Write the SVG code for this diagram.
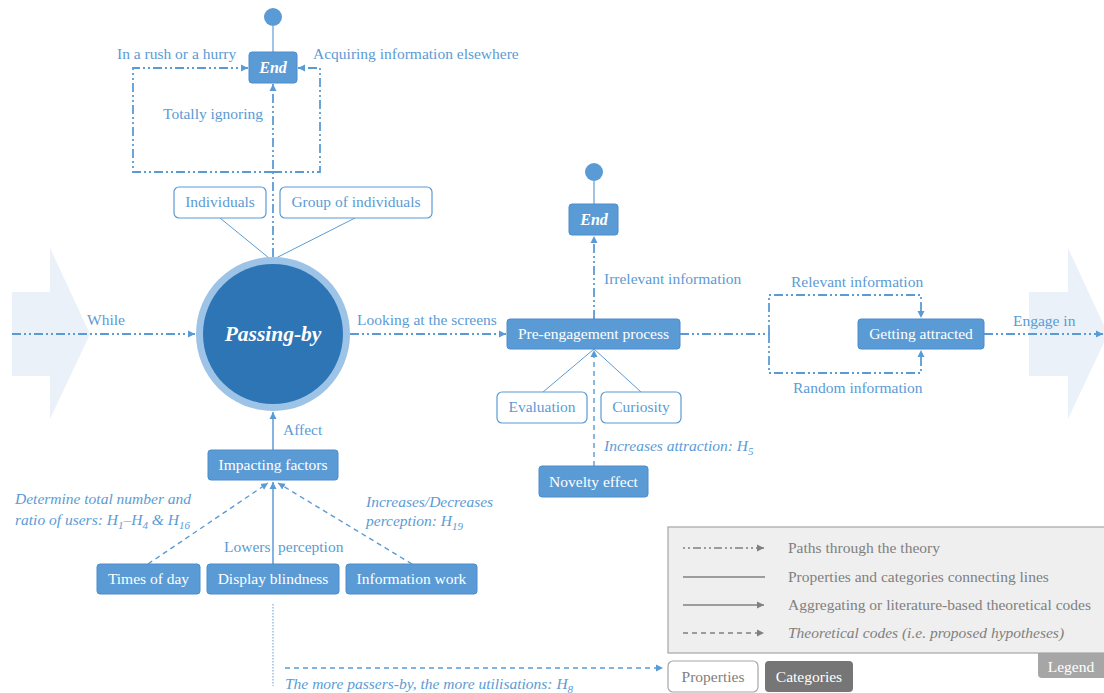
<svg xmlns="http://www.w3.org/2000/svg" width="1104" height="693" viewBox="0 0 1104 693" font-family="'Liberation Serif', 'Times New Roman', serif">
  <style>
    text { font-family: "Liberation Serif", "Times New Roman", serif; font-size: 15.5px; }
    .lbl { fill: #5b9bd5; }
    .it { font-style: italic; }
    .wt { fill: #ffffff; text-anchor: middle; }
    .bt { fill: #5b9bd5; text-anchor: middle; }
    .cat { fill: #5b9bd5; stroke: #4a8ccc; stroke-width: 1; }
    .prop { fill: #ffffff; stroke: #5b9bd5; stroke-width: 1.2; }
    .path { fill: none; stroke: #5b9bd5; stroke-width: 1.8; stroke-dasharray: 9 3 2 3 2 3; }
    .thin { fill: none; stroke: #5b9bd5; stroke-width: 1; }
    .solid { fill: none; stroke: #5b9bd5; stroke-width: 1.5; }
    .dash { fill: none; stroke: #5b9bd5; stroke-width: 1.4; stroke-dasharray: 5 4; }
    .dot { fill: none; stroke: #9dc3e6; stroke-width: 1.6; stroke-dasharray: 1.5 1.5; }
    .lg { fill: #808080; }
    .lgl { fill: none; stroke: #808080; stroke-width: 1.3; }
    .flow { fill: #eaf1f8; }
  </style>
  <defs>
    <marker id="ah" markerUnits="userSpaceOnUse" markerWidth="8" markerHeight="8" refX="7" refY="4" orient="auto">
      <path d="M0,0.5 L7,4 L0,7.5 z" fill="#5b9bd5"/>
    </marker>
    <marker id="ahg" markerUnits="userSpaceOnUse" markerWidth="8" markerHeight="8" refX="7" refY="4" orient="auto">
      <path d="M0,0.5 L7,4 L0,7.5 z" fill="#808080"/>
    </marker>
  </defs>

  <!-- large background flow arrows -->
  <polygon class="flow" points="12,292 50,292 50,248 90,334 50,419 50,376 12,376"/>
  <polygon class="flow" points="1029,292 1068,292 1068,248 1108,334 1068,419 1068,376 1029,376"/>

  <!-- connectors -->
  <g id="connectors">
    <!-- paths through the theory -->
    <path class="path" d="M12,334 H195" marker-end="url(#ah)"/>
    <path class="path" d="M350,334 H506" marker-end="url(#ah)"/>
    <path class="path" d="M680,334 H769"/>
    <path class="path" d="M769,334 V295 H921 V318" marker-end="url(#ah)"/>
    <path class="path" d="M769,334 V373 H921 V350" marker-end="url(#ah)"/>
    <path class="path" d="M984,334 H1103" marker-end="url(#ah)"/>
    <path class="path" d="M273,257 V84" marker-end="url(#ah)"/>
    <path class="path" d="M273,172 H133 V68 H248" marker-end="url(#ah)"/>
    <path class="path" d="M273,172 H320 V68 H298" marker-end="url(#ah)"/>
    <path class="path" d="M594,319 V236" marker-end="url(#ah)"/>
    <!-- end markers -->
    <path class="solid" d="M273,26 V52" style="stroke:#7fb0de"/>
    <path class="solid" d="M594,181 V204" style="stroke:#7fb0de"/>
    <!-- properties and categories connecting lines -->
    <path class="thin" d="M220,218 L269,258"/>
    <path class="thin" d="M355,218 L276,258"/>
    <path class="thin" d="M543,392 L594,349"/>
    <path class="thin" d="M641,392 L594,349"/>
    <!-- aggregating codes -->
    <path class="solid" d="M273,450 V412" marker-end="url(#ah)"/>
    <path class="solid" d="M273,564 V482" marker-end="url(#ah)"/>
    <!-- theoretical codes -->
    <path class="dash" d="M594,466 V350" marker-end="url(#ah)"/>
    <path class="dash" d="M148,564 L268,483" marker-end="url(#ah)"/>
    <path class="dash" d="M412,564 L278,483" marker-end="url(#ah)"/>
    <path class="dot" d="M273,604 V686"/>
    <path class="dash" d="M285,668 H663" marker-end="url(#ah)"/>
  </g>

  <!-- path labels -->
  <g id="labels">
    <text class="lbl" x="117" y="59">In a rush or a hurry</text>
    <text class="lbl" x="313" y="59">Acquiring information elsewhere</text>
    <text class="lbl" x="163" y="119">Totally ignoring</text>
    <text class="lbl" x="87" y="325">While</text>
    <text class="lbl" x="357" y="325">Looking at the screens</text>
    <text class="lbl" x="604" y="284">Irrelevant information</text>
    <text class="lbl" x="791" y="287">Relevant information</text>
    <text class="lbl" x="793" y="393">Random information</text>
    <text class="lbl" x="1013" y="326">Engage in</text>
    <text class="lbl" x="283" y="435">Affect</text>
    <text class="lbl"><tspan x="224" y="552">Lowers</tspan><tspan x="278" y="552">perception</tspan></text>
    <text class="lbl it" x="604" y="451">Increases attraction: H<tspan dy="4" font-size="11">5</tspan></text>
    <text class="lbl it" x="15" y="504">Determine total number and</text>
    <text class="lbl it" x="15" y="525">ratio of users: H<tspan dy="4" font-size="11">1</tspan><tspan dy="-4">–H</tspan><tspan dy="4" font-size="11">4</tspan><tspan dy="-4"> &amp; H</tspan><tspan dy="4" font-size="11">16</tspan></text>
    <text class="lbl it" x="366" y="507">Increases/Decreases</text>
    <text class="lbl it" x="366" y="526">perception: H<tspan dy="4" font-size="11">19</tspan></text>
    <text class="lbl it" x="285" y="689">The more passers-by, the more utilisations: H<tspan dy="4" font-size="11">8</tspan></text>
  </g>

  <!-- nodes -->
  <g id="end-top">
    <circle cx="273" cy="17" r="9" fill="#5b9bd5"/>
    <rect class="cat" x="249" y="52" width="48" height="31" rx="3"/>
    <text class="wt" x="273" y="73" font-weight="bold" font-style="italic" style="font-size:16px">End</text>
  </g>
  <g id="individuals">
    <rect class="prop" x="174" y="187" width="92" height="31" rx="5"/>
    <text class="bt" x="220" y="207">Individuals</text>
  </g>
  <g id="group-of-individuals">
    <rect class="prop" x="280" y="187" width="152" height="31" rx="5"/>
    <text class="bt" x="356" y="207">Group of individuals</text>
  </g>
  <g id="passing-by">
    <circle cx="273" cy="334" r="77" fill="#9dc3e6"/>
    <circle cx="273" cy="334" r="70" fill="#2e75b6"/>
    <text class="wt" x="273" y="341" font-weight="bold" font-style="italic" style="font-size:21.5px">Passing-by</text>
  </g>
  <g id="end-pre">
    <circle cx="594" cy="172" r="9" fill="#5b9bd5"/>
    <rect class="cat" x="569" y="204" width="49" height="31" rx="3"/>
    <text class="wt" x="594" y="225" font-weight="bold" font-style="italic" style="font-size:16px">End</text>
  </g>
  <g id="pre-engagement">
    <rect class="cat" x="507" y="319" width="173" height="30" rx="3"/>
    <text class="wt" x="593.5" y="339">Pre-engagement process</text>
  </g>
  <g id="evaluation">
    <rect class="prop" x="497" y="392" width="90" height="31" rx="5"/>
    <text class="bt" x="542" y="412">Evaluation</text>
  </g>
  <g id="curiosity">
    <rect class="prop" x="601" y="392" width="80" height="31" rx="5"/>
    <text class="bt" x="641" y="412">Curiosity</text>
  </g>
  <g id="novelty-effect">
    <rect class="cat" x="539" y="466" width="109" height="31" rx="3"/>
    <text class="wt" x="593.5" y="487">Novelty effect</text>
  </g>
  <g id="getting-attracted">
    <rect class="cat" x="858" y="319" width="126" height="30" rx="3"/>
    <text class="wt" x="921" y="339">Getting attracted</text>
  </g>
  <g id="impacting-factors">
    <rect class="cat" x="208" y="450" width="130" height="30" rx="3"/>
    <text class="wt" x="273" y="470">Impacting factors</text>
  </g>
  <g id="times-of-day">
    <rect class="cat" x="97" y="564" width="103" height="30" rx="3"/>
    <text class="wt" x="148.5" y="584">Times of day</text>
  </g>
  <g id="display-blindness">
    <rect class="cat" x="207" y="564" width="132" height="30" rx="3"/>
    <text class="wt" x="273" y="584">Display blindness</text>
  </g>
  <g id="information-work">
    <rect class="cat" x="346" y="564" width="131" height="30" rx="3"/>
    <text class="wt" x="411.5" y="584">Information work</text>
  </g>

  <!-- legend -->
  <g id="legend">
    <rect x="1038" y="640" width="72" height="38" rx="4" fill="#a6a6a6"/>
    <rect x="668" y="527" width="445" height="126" fill="#efefef" stroke="#a6a6a6" stroke-width="1.2"/>
    <text x="1071" y="672" fill="#ffffff" text-anchor="middle">Legend</text>
    <path class="lgl" d="M683,548 H764" stroke-dasharray="2 3 2 3 8 3" marker-end="url(#ahg)"/>
    <path class="lgl" d="M683,577 H765" stroke-width="1"/>
    <path class="lgl" d="M683,605 H764" marker-end="url(#ahg)"/>
    <path class="lgl" d="M683,633 H764" stroke-dasharray="5 4" marker-end="url(#ahg)"/>
    <text class="lg" x="788" y="553">Paths through the theory</text>
    <text class="lg" x="788" y="582">Properties and categories connecting lines</text>
    <text class="lg" x="788" y="610">Aggregating or literature-based theoretical codes</text>
    <text class="lg it" x="788" y="638">Theoretical codes (i.e. proposed hypotheses)</text>
  </g>
  <g id="legend-properties">
    <rect x="668" y="661" width="90" height="31" rx="5" fill="#ffffff" stroke="#a6a6a6" stroke-width="1.2"/>
    <text x="713" y="682" fill="#808080" text-anchor="middle">Properties</text>
  </g>
  <g id="legend-categories">
    <rect x="765" y="661" width="88" height="31" rx="4" fill="#767676"/>
    <text x="809" y="682" fill="#ffffff" text-anchor="middle">Categories</text>
  </g>
</svg>
